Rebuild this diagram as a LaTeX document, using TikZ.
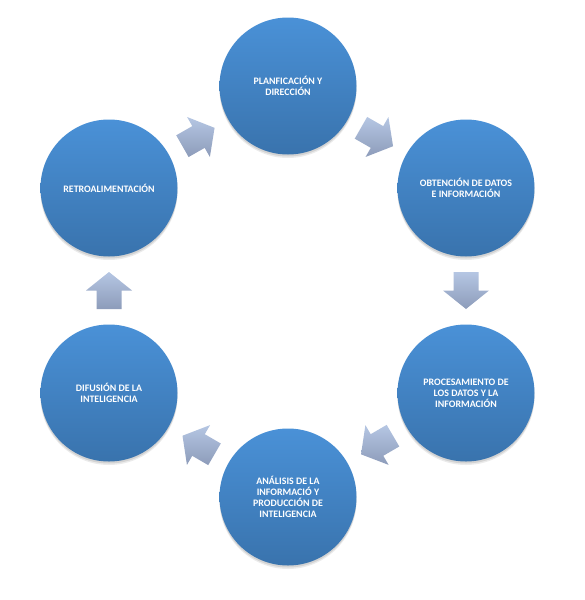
\documentclass[tikz,border=0pt]{standalone}
\usepackage{fontspec}
\setmainfont{Carlito}
\definecolor{ctop}{HTML}{4A91D7}
\definecolor{cbot}{HTML}{3973AD}
\definecolor{atop}{HTML}{B5C6E3}
\definecolor{abot}{HTML}{8D9CBA}
\begin{document}
\begin{tikzpicture}[x=1pt,y=-1pt,
  stage/.style={circle, minimum size=137pt, inner sep=0pt, top color=ctop, bottom color=cbot,
    draw=none, text=white, align=center, font=\bfseries\fontsize{9.9}{10.9}\selectfont,
    preaction={fill=black, fill opacity=0.10, transform canvas={yshift=-2pt}},
    preaction={fill=black, fill opacity=0.08, transform canvas={yshift=-3.5pt}}},
  barrow/.pic={\shade[top color=atop, bottom color=abot]
    (-18.5,-12.5) -- (0,-12.5) -- (0,-23) -- (18.5,0) -- (0,23) -- (0,12.5) -- (-18.5,12.5) -- cycle;}]
\useasboundingbox[fill=white] (0,0) rectangle (585,600);
\node[stage] (t)  at (288,86)  {PLANFICACIÓN Y\\DIRECCIÓN};
\node[stage] (ru) at (466,188) {OBTENCIÓN DE DATOS\\E INFORMACIÓN};
\node[stage] (rl) at (466,393) {PROCESAMIENTO DE\\LOS DATOS Y LA\\INFORMACIÓN};
\node[stage] (b)  at (288,497) {ANÁLISIS DE LA\\INFORMACIÓ Y\\PRODUCCIÓN DE\\INTELIGENCIA};
\node[stage] (ll) at (109,393) {DIFUSIÓN DE LA\\INTELIGENCIA};
\node[stage] (lu) at (109,188) {RETROALIMENTACIÓN};
\path (lu.center) -- pic[pos=0.5, sloped, allow upside down]{barrow} (t.center);
\path (t.center) -- pic[pos=0.5, sloped, allow upside down]{barrow} (ru.center);
\path (ru.center) -- pic[pos=0.5, sloped, allow upside down]{barrow} (rl.center);
\path (rl.center) -- pic[pos=0.5, sloped, allow upside down]{barrow} (b.center);
\path (b.center) -- pic[pos=0.5, sloped, allow upside down]{barrow} (ll.center);
\path (ll.center) -- pic[pos=0.5, sloped, allow upside down]{barrow} (lu.center);
\end{tikzpicture}
\end{document}
